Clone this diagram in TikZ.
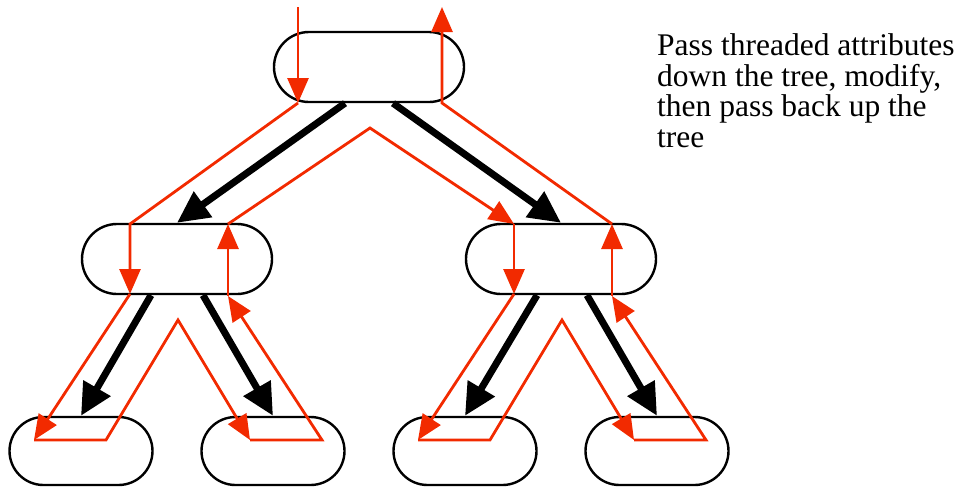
\documentclass[tikz,border=0pt]{standalone}
\usepackage{fontspec}
\setmainfont{Liberation Serif}
\usetikzlibrary{shapes.misc,arrows.meta}
\definecolor{threadred}{RGB}{242,42,0}
\tikzset{
  treenode/.style={rounded rectangle, draw=black, line width=2.4pt, inner sep=0pt,
    minimum width=190pt, minimum height=70pt},
  leafnode/.style={rounded rectangle, draw=black, line width=2.4pt, inner sep=0pt,
    minimum width=143pt, minimum height=68pt},
  edgearrow/.style={line width=7pt, -{Triangle[length=32pt 0,width=30pt 0]}},
  thread/.style={draw=threadred, line width=2.8pt, line join=miter},
  threadarrow/.style={thread, -{Triangle[length=25pt 0,width=21pt 0]}}
}
\begin{document}
\begin{tikzpicture}[x=1pt,y=-1pt]
\useasboundingbox (0,0) rectangle (959,488);

% tree nodes
\node[treenode] (root) at (369,67) {};
\node[treenode] (ml) at (177,259) {};
\node[treenode] (mr) at (561,259) {};
\node[leafnode] (l1) at (81,451) {};
\node[leafnode] (l2) at (273,451) {};
\node[leafnode] (l3) at (465,451) {};
\node[leafnode] (l4) at (657,451) {};

% tree edges
\draw[edgearrow] ([xshift=-24pt]root.south) -- (ml.north);
\draw[edgearrow] ([xshift=24pt]root.south) -- (mr.north);
\draw[edgearrow] ([xshift=-26pt]ml.south) -- (l1.north);
\draw[edgearrow] ([xshift=26pt]ml.south) -- (l2.north);
\draw[edgearrow] ([xshift=-24pt]mr.south) -- (l3.north);
\draw[edgearrow] ([xshift=26pt]mr.south) -- (l4.north);

% thread route
\coordinate (in) at (298,7);
\coordinate (rootdown) at (298,103);
\coordinate (mlin) at (130,224);
\coordinate (mlout) at (130,294);
\coordinate (l1a) at (34,440);
\coordinate (l1b) at (106,440);
\coordinate (mlpeak) at (178,320);
\coordinate (l2a) at (250,440);
\coordinate (l2b) at (322,440);
\coordinate (mlret) at (228,296);
\coordinate (mlup) at (228,224);
\coordinate (rootpeak) at (370,128);
\coordinate (mrin) at (514,224);
\coordinate (mrout) at (514,294);
\coordinate (l3a) at (418,440);
\coordinate (l3b) at (490,440);
\coordinate (mrpeak) at (562,320);
\coordinate (l4a) at (634,440);
\coordinate (l4b) at (706,440);
\coordinate (mrret) at (612,296);
\coordinate (mrup) at (612,224);
\coordinate (rootup) at (442,103);
\coordinate (out) at (442,7);

\draw[threadarrow] (in) -- (rootdown);
\draw[threadarrow] (rootdown) -- (mlin) -- (mlout);
\draw[threadarrow] (mlout) -- (l1a);
\draw[threadarrow] (l1a) -- (l1b) -- (mlpeak) -- (l2a);
\draw[threadarrow] (l2a) -- (l2b) -- (mlret);
\draw[threadarrow] (mlret) -- (mlup);
\draw[threadarrow] (mlup) -- (rootpeak) -- (mrin);
\draw[threadarrow] (mrin) -- (mrout);
\draw[threadarrow] (mrout) -- (l3a);
\draw[threadarrow] (l3a) -- (l3b) -- (mrpeak) -- (l4a);
\draw[threadarrow] (l4a) -- (l4b) -- (mrret);
\draw[threadarrow] (mrret) -- (mrup);
\draw[threadarrow] (mrup) -- (rootup) -- (out);

% caption, anchored at the baseline of its last line
\node[anchor=base west, align=left, inner sep=0pt,
  font=\fontsize{31.5pt}{30.5pt}\selectfont] (note) at (657,147)
  {Pass threaded attributes\\down the tree, modify,\\then pass back up the\\tree};
\end{tikzpicture}
\end{document}
